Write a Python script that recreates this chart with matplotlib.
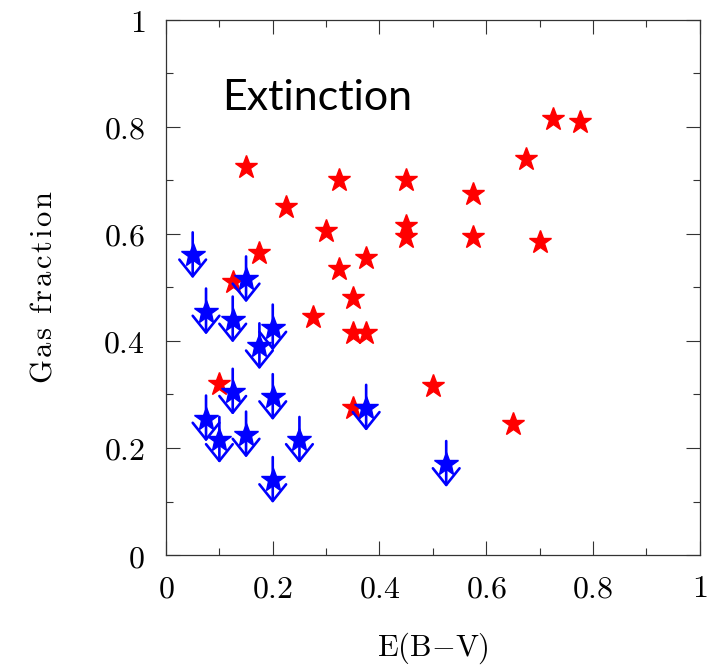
import matplotlib
matplotlib.use('Agg')
import matplotlib.pyplot as plt

plt.rcParams['mathtext.fontset'] = 'cm'
plt.rcParams['axes.unicode_minus'] = False

# detections (red stars)
red_x = [0.725, 0.775, 0.15, 0.675, 0.325, 0.45, 0.575, 0.225, 0.30, 0.45,
         0.45, 0.575, 0.70, 0.175, 0.375, 0.325, 0.125, 0.35, 0.275, 0.35,
         0.375, 0.10, 0.50, 0.35, 0.65]
red_y = [0.815, 0.81, 0.725, 0.74, 0.70, 0.70, 0.675, 0.65, 0.605, 0.615,
         0.595, 0.595, 0.585, 0.565, 0.555, 0.535, 0.51, 0.48, 0.445, 0.415,
         0.415, 0.32, 0.315, 0.275, 0.245]

# upper limits (blue stars with arrows)
blue_x = [0.05, 0.15, 0.075, 0.125, 0.20, 0.175, 0.125, 0.20, 0.075, 0.10,
          0.15, 0.25, 0.20, 0.375, 0.525]
blue_y = [0.56, 0.515, 0.455, 0.44, 0.425, 0.39, 0.305, 0.295, 0.255, 0.215,
          0.225, 0.215, 0.14, 0.275, 0.17]

ticks = [0, 0.2, 0.4, 0.6, 0.8, 1]
tick_labels = ['0', '0.2', '0.4', '0.6', '0.8', '1']


def spaced(s, gap=0.1):
    # mathtext string with a bit of extra letter spacing (the original font is wide)
    parts = []
    for ch in s:
        if ch == ' ':
            parts.append(r'\ ')
        elif ch == '-':
            parts.append('{-}')
        else:
            parts.append(ch)
    return '$\\mathrm{' + ('\\hspace{%.2f}' % gap).join(parts) + '}$'


fig = plt.figure(figsize=(7.14, 6.65), dpi=100)
ax = fig.add_axes([0.2325, 0.1654, 0.7475, 0.8046])

ax.plot(red_x, red_y, ls='none', marker='*', ms=17, color='red', mec='red')

# upper-limit arrows
for x, y in zip(blue_x, blue_y):
    ax.annotate('', xy=(x, y - 0.043), xytext=(x, y + 0.043),
                arrowprops=dict(arrowstyle='->, head_length=0.6, head_width=0.48',
                                color='blue', lw=1.9, shrinkA=0, shrinkB=0,
                                mutation_scale=20))
ax.plot(blue_x, blue_y, ls='none', marker='*', ms=18, color='blue', mec='blue')

ax.set_xlim(0, 1)
ax.set_ylim(0, 1)
ax.set_xticks(ticks)
ax.set_yticks(ticks)
ax.set_xticklabels(['$' + t + '$' for t in tick_labels], fontsize=23)
ax.set_yticklabels(['$' + t + '$' for t in tick_labels], fontsize=23)
ax.set_xticks([0.1, 0.3, 0.5, 0.7, 0.9], minor=True)
ax.set_yticks([0.1, 0.3, 0.5, 0.7, 0.9], minor=True)
ax.tick_params(which='both', direction='in', top=True, right=True, width=0.8, color='#333333')
ax.tick_params(which='major', length=10, pad=13)
ax.tick_params(axis='y', which='major', pad=15)
ax.tick_params(which='minor', length=5)
for s in ax.spines.values():
    s.set_linewidth(0.9)
    s.set_color('#333333')

ax.set_xlabel(spaced('E(B-V)', 0.0), fontsize=22, labelpad=19)
ax.set_ylabel(spaced('Gas fraction', 0.1), fontsize=22, labelpad=33)

ax.text(0.105, 0.832, 'Extinction', fontfamily='Lato', fontsize=31, color='black')

plt.savefig('out.png', dpi=100)
